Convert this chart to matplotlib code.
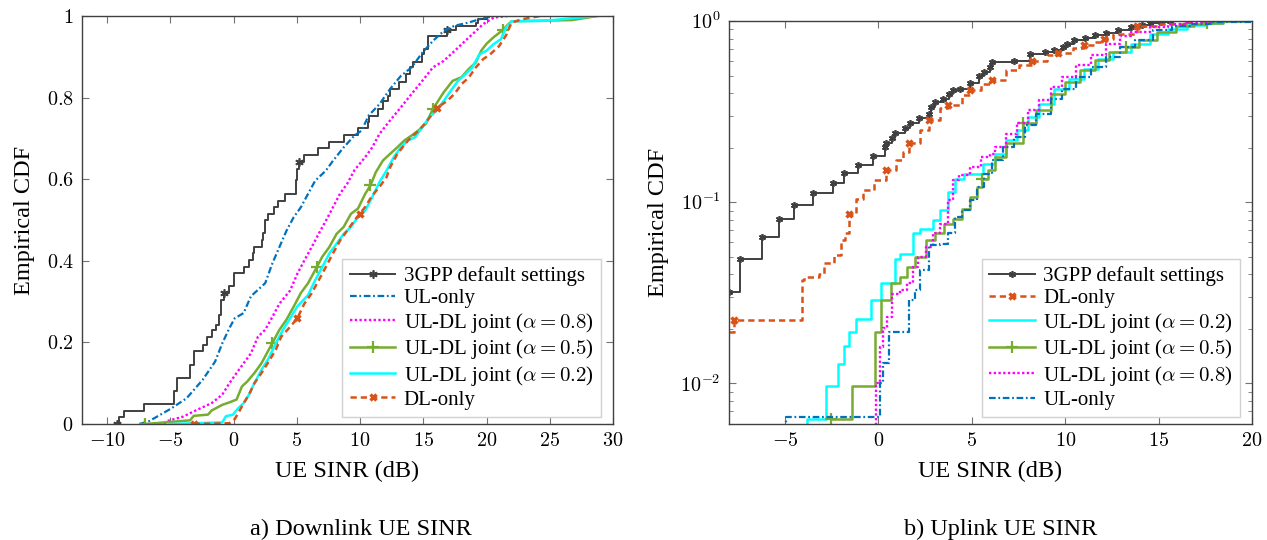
import numpy as np
import matplotlib

matplotlib.use("Agg")
import matplotlib.pyplot as plt
from matplotlib.ticker import FuncFormatter, MultipleLocator, LogLocator

plt.rcParams["font.family"] = ["Liberation Serif", "DejaVu Serif"]
plt.rcParams["mathtext.fontset"] = "cm"

# ---------------- Downlink SINR CDFs (left panel) ----------------
dl_3gpp_x = [-9.24, -9.1, -8.67, -7.12, -4.72, -4.5, -3.45, -3.11, -2.46, -2.09, -1.69, -1.38, -1.19, -0.99,
             -0.76, -0.40, 0.0, 0.85, 1.21, 1.50, 1.58, 2.20, 2.34, 2.49, 2.68, 3.19, 3.47, 4.04, 4.89, 4.95,
             5.03, 5.17, 5.54, 6.67, 7.57, 8.70, 9.83, 10.62, 10.73, 11.38, 11.81, 12.23, 12.37, 13.08, 13.64,
             13.93, 14.21, 14.92, 15.06, 15.34, 16.89, 17.60, 19.15, 19.29, 20.0]
dl_3gpp_y = [0.0, 0.016, 0.033, 0.049, 0.080, 0.112, 0.145, 0.178, 0.194, 0.214, 0.230, 0.243, 0.267, 0.304,
             0.322, 0.338, 0.371, 0.385, 0.401, 0.418, 0.434, 0.450, 0.467, 0.499, 0.515, 0.532, 0.546, 0.564,
             0.585, 0.597, 0.625, 0.643, 0.660, 0.676, 0.692, 0.708, 0.725, 0.739, 0.756, 0.772, 0.792, 0.805,
             0.821, 0.837, 0.857, 0.874, 0.886, 0.906, 0.919, 0.951, 0.965, 0.976, 0.984, 0.992, 1.0]
dl_3gpp_marks = [0, 14, 31, 50]

dl_ul_only_x = [-7.46, -6.69, -5.0, -3.73, -2.46, -1.47, -0.90, -0.34, 0.08, 0.79, 1.36, 2.49, 3.05, 3.62,
                4.18, 4.75, 5.31, 5.88, 6.44, 7.29, 7.85, 8.70, 9.55, 10.11, 10.68, 11.53, 12.37, 13.22,
                14.07, 14.92, 15.76, 16.61, 17.46, 18.59, 19.44, 20.56]
dl_ul_only_y = [0.0, 0.007, 0.037, 0.063, 0.108, 0.153, 0.198, 0.235, 0.259, 0.272, 0.313, 0.345, 0.393,
                0.434, 0.474, 0.507, 0.531, 0.564, 0.596, 0.621, 0.645, 0.678, 0.707, 0.719, 0.756, 0.784,
                0.821, 0.853, 0.874, 0.910, 0.939, 0.963, 0.976, 0.984, 0.992, 1.0]

dl_a08_x = [-5.5, -5.28, -4.01, -2.88, -1.75, -0.90, -0.34, 0.23, 0.79, 1.36, 1.92, 2.49, 3.05, 3.62, 4.46,
            5.03, 5.59, 6.16, 6.72, 7.29, 7.85, 8.42, 8.98, 9.55, 10.40, 10.96, 11.53, 12.37, 13.22, 14.07,
            14.92, 15.76, 16.61, 17.46, 18.31, 19.15, 19.72, 20.56, 21.69]
dl_a08_y = [0.0, 0.007, 0.018, 0.035, 0.051, 0.072, 0.100, 0.125, 0.149, 0.173, 0.214, 0.231, 0.262, 0.295,
            0.327, 0.368, 0.401, 0.433, 0.466, 0.498, 0.531, 0.565, 0.589, 0.622, 0.654, 0.678, 0.711, 0.744,
            0.776, 0.809, 0.841, 0.874, 0.890, 0.914, 0.939, 0.963, 0.980, 0.996, 1.0]

dl_a05_x = [-6.98, -5.42, -3.45, -3.16, -2.03, -1.75, -0.90, -0.34, 0.23, 0.65, 1.07, 1.64, 2.20, 3.05, 3.62,
            4.18, 4.75, 5.31, 5.88, 6.58, 7.01, 7.57, 8.14, 8.70, 9.27, 9.83, 10.40, 10.82, 11.24, 11.81,
            12.37, 12.94, 13.50, 14.07, 14.63, 15.20, 15.76, 16.61, 17.32, 18.02, 18.59, 19.15, 19.58, 20.0,
            20.56, 21.27, 21.69, 21.98, 26.78, 28.76]
dl_a05_y = [0.0, 0.004, 0.009, 0.020, 0.023, 0.033, 0.047, 0.053, 0.060, 0.092, 0.104, 0.125, 0.149, 0.198,
            0.231, 0.256, 0.288, 0.321, 0.345, 0.385, 0.410, 0.434, 0.466, 0.483, 0.515, 0.528, 0.564, 0.585,
            0.617, 0.646, 0.662, 0.678, 0.695, 0.707, 0.720, 0.736, 0.772, 0.813, 0.841, 0.850, 0.870, 0.886,
            0.915, 0.932, 0.948, 0.965, 0.979, 0.987, 0.990, 1.0]
dl_a05_marks = [0, 13, 19, 27, 36, 45]

dl_a02_x = [-5.07, -0.90, -0.62, -0.06, 0.37, 0.79, 1.21, 1.64, 2.20, 2.77, 3.33, 3.90, 4.46, 5.03, 5.88,
            6.44, 7.01, 7.57, 8.14, 8.70, 9.27, 9.83, 10.40, 10.96, 11.53, 12.09, 12.66, 13.22, 13.79, 14.35,
            14.92, 15.48, 16.05, 16.61, 17.18, 17.74, 18.31, 18.87, 19.44, 20.0, 20.56, 21.13, 21.55, 21.98,
            24.52, 28.76]
dl_a02_y = [0.0, 0.004, 0.019, 0.023, 0.039, 0.051, 0.072, 0.100, 0.133, 0.161, 0.198, 0.231, 0.259, 0.288,
            0.316, 0.352, 0.385, 0.418, 0.442, 0.466, 0.483, 0.507, 0.523, 0.556, 0.593, 0.621, 0.654, 0.678,
            0.695, 0.703, 0.727, 0.752, 0.768, 0.792, 0.817, 0.841, 0.857, 0.874, 0.906, 0.915, 0.931, 0.943,
            0.972, 0.987, 0.988, 1.0]

dl_dl_only_x = [-3.16, -0.34, 0.08, 0.37, 0.79, 1.21, 1.64, 2.20, 2.77, 3.33, 3.76, 4.46, 5.03, 5.59, 6.16,
                6.72, 7.29, 7.85, 8.42, 8.98, 9.55, 9.97, 10.40, 10.96, 11.53, 12.09, 12.37, 12.94, 13.79,
                14.63, 15.20, 16.05, 16.89, 17.46, 18.02, 18.59, 19.15, 19.72, 20.28, 20.99, 21.55, 21.98,
                22.82, 24.24]
dl_dl_only_y = [0.0, 0.002, 0.012, 0.027, 0.051, 0.072, 0.100, 0.125, 0.153, 0.182, 0.214, 0.238, 0.259,
                0.295, 0.320, 0.352, 0.385, 0.418, 0.450, 0.474, 0.499, 0.515, 0.532, 0.560, 0.581, 0.605,
                0.629, 0.662, 0.695, 0.719, 0.739, 0.774, 0.792, 0.809, 0.833, 0.849, 0.874, 0.894, 0.906,
                0.926, 0.953, 0.984, 0.992, 1.0]
dl_dl_only_marks = [0, 12, 21, 31]

# ---------------- Uplink SINR CDFs (right panel, log y) ----------------
ul_3gpp_x = [-8.01, -7.42, -6.24, -5.30, -4.51, -3.52, -2.44, -1.85, -1.12, -0.30, 0.35, 0.41, 0.71, 0.91,
             1.44, 1.67, 2.17, 2.72, 2.81, 3.01, 3.46, 3.80, 4.0, 4.39, 4.88, 5.37, 5.67, 5.96, 6.06, 7.24,
             8.13, 8.92, 9.41, 9.90, 10.10, 10.49, 11.08, 11.57, 12.17, 12.85, 13.54, 14.13, 14.53, 15.12,
             15.61]
ul_3gpp_y = [0.032, 0.0483, 0.0644, 0.0806, 0.0967, 0.1126, 0.1284, 0.1445, 0.1614, 0.1794, 0.201, 0.211,
             0.2274, 0.242, 0.257, 0.272, 0.291, 0.308, 0.335, 0.357, 0.373, 0.397, 0.414, 0.423, 0.457, 0.495,
             0.523, 0.557, 0.592, 0.602, 0.660, 0.675, 0.695, 0.719, 0.750, 0.789, 0.809, 0.834, 0.862, 0.896,
             0.927, 0.946, 0.975, 0.987, 1.0]

ul_dl_only_x = [-8.01, -7.75, -4.07, -3.98, -3.19, -2.89, -2.40, -2.01, -1.81, -1.56, -1.22, -0.83, -0.24,
                0.41, 0.94, 1.30, 1.63, 2.22, 2.72, 3.31, 3.70, 4.49, 4.88, 5.47, 6.06, 6.85, 7.54, 8.23,
                9.02, 9.61, 10.39, 10.98, 11.57, 12.07, 12.56, 13.84, 14.92, 16.59]
ul_dl_only_y = [0.0193, 0.0223, 0.0371, 0.0388, 0.0404, 0.0459, 0.0510, 0.0617, 0.0672, 0.0866, 0.1047,
                0.1164, 0.132, 0.1514, 0.1705, 0.190, 0.2125, 0.2495, 0.2833, 0.329, 0.343, 0.389, 0.418,
                0.451, 0.471, 0.535, 0.575, 0.599, 0.647, 0.666, 0.713, 0.734, 0.766, 0.799, 0.851, 0.935,
                0.967, 1.0]
ul_dl_only_marks = [1, 9, 13, 16, 18, 20, 22, 24, 27, 29, 31, 33, 35, 37]

ul_a02_x = [-3.85, -3.85, -2.81, -2.19, -1.83, -1.56, -1.20, -0.39, 0.15, 0.91, 1.14, 1.83, 2.22, 2.91, 3.31,
            3.70, 4.09, 4.59, 5.57, 6.26, 6.85, 7.44, 8.03, 8.62, 9.41, 10.20, 10.98, 11.77, 12.56, 13.54,
            14.53, 15.51, 16.50, 17.48, 18.46, 19.84]
ul_a02_y = [0.0032, 0.0064, 0.00966, 0.01285, 0.0161, 0.0193, 0.0226, 0.0288, 0.036, 0.0489, 0.052, 0.0672,
            0.0716, 0.0796, 0.0903, 0.114, 0.135, 0.144, 0.163, 0.185, 0.220, 0.249, 0.296, 0.350, 0.424,
            0.481, 0.546, 0.620, 0.675, 0.750, 0.851, 0.907, 0.946, 0.975, 0.996, 1.0]

ul_a05_x = [-2.54, -1.42, -0.18, 0.16, 0.65, 1.14, 1.54, 1.93, 2.52, 3.01, 3.50, 4.0, 4.49, 4.88, 5.28, 5.53,
            5.87, 6.26, 6.85, 7.74, 8.43, 9.21, 10.0, 10.79, 11.57, 12.36, 13.25, 13.94, 14.92, 15.91, 16.89,
            17.58, 18.46, 19.84]
ul_a05_y = [0.0064, 0.00966, 0.0193, 0.0288, 0.0356, 0.0388, 0.0440, 0.050, 0.0617, 0.0672, 0.0762, 0.081,
            0.0923, 0.107, 0.1216, 0.135, 0.150, 0.178, 0.211, 0.272, 0.322, 0.397, 0.461, 0.535, 0.607,
            0.675, 0.719, 0.782, 0.870, 0.935, 0.967, 0.975, 0.996, 1.0]
ul_a05_marks = [0, 15, 19, 26, 31]

ul_a08_x = [-0.33, -0.14, 0.06, 0.26, 0.45, 0.75, 1.14, 1.54, 1.83, 2.13, 2.52, 2.91, 3.31, 3.70, 4.0, 4.29,
            4.88, 5.47, 5.96, 6.26, 6.85, 7.44, 8.03, 8.62, 9.21, 9.80, 10.59, 11.38, 12.17, 12.95, 13.54,
            14.53, 15.51, 16.50, 17.87]
ul_a08_y = [0.0032, 0.0101, 0.0159, 0.0201, 0.0233, 0.0313, 0.0327, 0.0356, 0.0440, 0.050, 0.0567, 0.0672,
            0.0762, 0.1025, 0.132, 0.141, 0.1566, 0.178, 0.184, 0.2018, 0.239, 0.272, 0.322, 0.365, 0.432,
            0.491, 0.570, 0.647, 0.750, 0.823, 0.870, 0.927, 0.967, 0.987, 1.0]

ul_ul_only_x = [-4.96, -4.96, 0.06, 0.26, 0.55, 1.63, 1.93, 2.22, 2.72, 3.31, 3.70, 4.09, 4.49, 4.88, 5.28,
                5.67, 6.06, 6.65, 7.24, 7.83, 8.43, 9.21, 9.80, 10.59, 11.38, 12.17, 12.95, 13.74, 14.72,
                15.71, 16.69, 17.87, 20.0]
ul_ul_only_y = [0.0032, 0.0065, 0.0101, 0.0129, 0.0193, 0.0288, 0.0327, 0.0422, 0.058, 0.059, 0.0672, 0.083,
                0.0903, 0.1025, 0.1216, 0.144, 0.1705, 0.2018, 0.2297, 0.266, 0.308, 0.373, 0.424, 0.491,
                0.557, 0.633, 0.719, 0.789, 0.888, 0.939, 0.967, 0.992, 1.0]

C_BLACK = "#404040"
C_BLUE = "#0072BD"
C_MAGENTA = "#FF00FF"
C_GREEN = "#77AC30"
C_CYAN = "#00FFFF"
C_ORANGE = "#D95319"

LBL_3GPP = "3GPP default settings"
LBL_UL = "UL-only"
LBL_DL = "DL-only"
LBL_A08 = r"UL-DL joint ($\alpha = 0.8$)"
LBL_A05 = r"UL-DL joint ($\alpha = 0.5$)"
LBL_A02 = r"UL-DL joint ($\alpha = 0.2$)"

FS_LABEL = 17.5
FS_TICK = 14.5
FS_LEG = 15

fig = plt.figure(figsize=(12.67, 5.4), dpi=100)
ax1 = fig.add_axes([0.0647, 0.2148, 0.4191, 0.7556])
ax2 = fig.add_axes([0.5754, 0.2148, 0.4128, 0.7463])

st_3gpp = dict(color=C_BLACK, lw=1.4, marker=(6, 2, 0), ms=6, mew=1.2)
st_ul = dict(color=C_BLUE, lw=1.6, dashes=(3.0, 1.2, 0.8, 1.2))
st_a08 = dict(color=C_MAGENTA, lw=1.7, dashes=(1.0, 1.0))
st_a05 = dict(color=C_GREEN, lw=1.8, marker="+", ms=8, mew=1.6)
st_a02 = dict(color=C_CYAN, lw=1.8)
st_dl = dict(color=C_ORANGE, lw=1.8, dashes=(2.5, 1.6), marker="x", ms=5, mew=2.4)

# left panel
ax1.plot(dl_3gpp_x, dl_3gpp_y, drawstyle="steps-post", markevery=dl_3gpp_marks, label=LBL_3GPP, **st_3gpp)
ax1.plot(dl_ul_only_x, dl_ul_only_y, label=LBL_UL, **st_ul)
ax1.plot(dl_a08_x, dl_a08_y, label=LBL_A08, **st_a08)
ax1.plot(dl_a05_x, dl_a05_y, markevery=dl_a05_marks, label=LBL_A05, **st_a05)
ax1.plot(dl_a02_x, dl_a02_y, label=LBL_A02, **st_a02)
ax1.plot(dl_dl_only_x, dl_dl_only_y, markevery=dl_dl_only_marks, label=LBL_DL, **st_dl)

ax1.set_xlim(-12, 30)
ax1.set_ylim(0, 1)
ax1.xaxis.set_major_locator(MultipleLocator(5))
ax1.yaxis.set_major_locator(MultipleLocator(0.2))
ax1.xaxis.set_major_formatter(FuncFormatter(lambda v, p: f"${v:g}$"))
ax1.yaxis.set_major_formatter(FuncFormatter(lambda v, p: f"${v:g}$"))

# right panel
ax2.plot(ul_3gpp_x, ul_3gpp_y, drawstyle="steps-post", label=LBL_3GPP, **dict(st_3gpp, ms=5))
ax2.plot(ul_dl_only_x, ul_dl_only_y, drawstyle="steps-post", markevery=ul_dl_only_marks, label=LBL_DL, **st_dl)
ax2.plot(ul_a02_x, ul_a02_y, drawstyle="steps-post", label=LBL_A02, **st_a02)
ax2.plot(ul_a05_x, ul_a05_y, drawstyle="steps-post", markevery=ul_a05_marks, label=LBL_A05, **st_a05)
ax2.plot(ul_a08_x, ul_a08_y, drawstyle="steps-post", label=LBL_A08, **st_a08)
ax2.plot(ul_ul_only_x, ul_ul_only_y, drawstyle="steps-post", label=LBL_UL, **st_ul)

ax2.set_yscale("log")
ax2.set_xlim(-8, 20)
ax2.set_ylim(0.00597, 1)
ax2.xaxis.set_major_locator(MultipleLocator(5))
ax2.xaxis.set_major_formatter(FuncFormatter(lambda v, p: f"${v:g}$"))
ax2.yaxis.set_major_locator(LogLocator(base=10, numticks=10))
ax2.yaxis.set_minor_locator(LogLocator(base=10, subs=np.arange(2, 10), numticks=10))
ax2.yaxis.set_major_formatter(FuncFormatter(lambda v, p: f"$10^{{{int(round(np.log10(v)))}}}$"))
ax2.yaxis.set_minor_formatter(FuncFormatter(lambda v, p: ""))

for ax in (ax1, ax2):
    ax.tick_params(which="both", direction="in", top=True, right=True, color="0.45", labelsize=FS_TICK, pad=6)
    ax.tick_params(which="major", length=5, width=0.8)
    ax.tick_params(which="minor", length=3, width=0.6)
    for sp in ax.spines.values():
        sp.set_color("0.25")
        sp.set_linewidth(1.0)
    ax.set_xlabel("UE SINR (dB)", fontsize=FS_LABEL, labelpad=7)
    ax.set_ylabel("Empirical CDF", fontsize=FS_LABEL, labelpad=8)
    leg = ax.legend(loc="lower right", bbox_to_anchor=(0.977, 0.017), fontsize=FS_LEG, frameon=True,
                    fancybox=False, framealpha=1, edgecolor="0.82", borderpad=0.35, labelspacing=0.12,
                    handlelength=2.2, handletextpad=0.4, borderaxespad=0.0)
    leg.get_frame().set_linewidth(1.0)

fig.text(0.285, 0.009, "a) Downlink UE SINR", ha="center", va="baseline", fontsize=FS_LABEL)
fig.text(0.790, 0.009, "b) Uplink UE SINR", ha="center", va="baseline", fontsize=FS_LABEL)

fig.savefig("out.png", dpi=100)
plt.close(fig)
